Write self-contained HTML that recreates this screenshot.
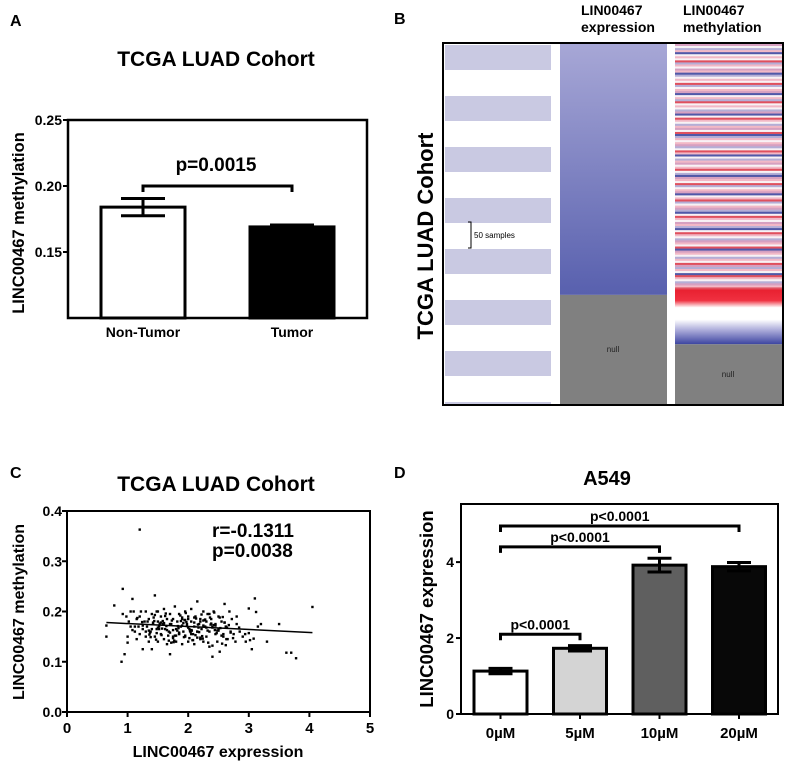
<!DOCTYPE html>
<html><head><meta charset="utf-8">
<style>
html,body{margin:0;padding:0;background:#fff;}
svg{display:block;font-family:"Liberation Sans",Arial,sans-serif;}
.b{font-weight:bold;}
</style></head>
<body>
<svg id="fig" width="787" height="763" viewBox="0 0 787 763" xmlns="http://www.w3.org/2000/svg">
<text x="10" y="26" class="b" font-size="16">A</text>
<text x="394" y="24" class="b" font-size="16">B</text>
<text x="10" y="478" class="b" font-size="16">C</text>
<text x="394" y="478" class="b" font-size="16">D</text>

<g id="pa">
<text x="216" y="66" text-anchor="middle" class="b" font-size="21">TCGA LUAD Cohort</text>
<text transform="translate(24,223) rotate(-90)" text-anchor="middle" class="b" font-size="16.5">LINC00467 methylation</text>
</g>

<g id="pb">
<text transform="translate(433,236) rotate(-90)" text-anchor="middle" class="b" font-size="22">TCGA LUAD Cohort</text>
<text x="581" y="15" class="b" font-size="14"><tspan x="581">LIN00467</tspan><tspan x="581" dy="17">expression</tspan></text>
<text x="683" y="15" class="b" font-size="14"><tspan x="683">LIN00467</tspan><tspan x="683" dy="17">methylation</tspan></text>
</g>

<g id="pc">
<text x="216" y="491" text-anchor="middle" class="b" font-size="21">TCGA LUAD Cohort</text>
<text transform="translate(24,612) rotate(-90)" text-anchor="middle" class="b" font-size="16">LINC00467 methylation</text>
<text x="218" y="757" text-anchor="middle" class="b" font-size="16">LINC00467 expression</text>
<text x="212" y="537" class="b" font-size="19">r=-0.1311</text>
<text x="212" y="557" class="b" font-size="19">p=0.0038</text>
</g>

<g id="pd">
<text x="607" y="485" text-anchor="middle" class="b" font-size="20">A549</text>
<text transform="translate(433,609) rotate(-90)" text-anchor="middle" class="b" font-size="18.5">LINC00467 expression</text>
</g>
</svg>
<script>
const NS='http://www.w3.org/2000/svg';
function mk(parent,tag,attrs){const e=document.createElementNS(NS,tag);for(const k in attrs)e.setAttribute(k,attrs[k]);parent.appendChild(e);return e;}

// ---------- Panel A data ----------
const aCategories=['Non-Tumor','Tumor'];
const aValues=[0.184,0.169];
const aErrors=[0.0065,0.0015];
const aFills=['#ffffff','#000000'];
const aTicks=[0.15,0.20,0.25];
const aPText='p=0.0015';
const aBracketY=0.20;

// ---------- Panel B data ----------
const bStripeCount=8;
const bExprFraction=0.695;
const bMethCodes='mwlpbwpwrlpwmpblwpwrlwpmbwplrwpwlmbwrpwlpmwrblpwpmlwrpbwlpmwprwlbmpwrlwpmbwprlwpmlbwrpwmplbwrpwlmpwrbmpwlpwrmlpwbrpwlmpr';
const bMethFraction=0.685;

// ---------- Panel C data ----------
const cX=[0.65,0.65,0.78,0.9,0.92,0.95,0.98,1.0,1.02,1.05,1.08,1.1,1.12,1.15,1.15,1.18,1.2,1.2,1.22,1.25,1.25,1.28,1.3,1.3,1.32,1.35,1.35,1.38,1.4,1.4,1.42,1.45,1.45,1.48,1.5,1.5,1.5,1.52,1.55,1.55,1.58,1.6,1.6,1.62,1.65,1.65,1.68,1.7,1.7,1.72,1.75,1.75,1.78,1.8,1.8,1.82,1.85,1.85,1.88,1.9,1.9,1.92,1.95,1.95,1.98,2.0,2.0,2.02,2.05,2.05,2.08,2.1,2.1,2.12,2.15,2.15,2.18,2.2,2.2,2.22,2.25,2.25,2.28,2.3,2.3,2.32,2.35,2.35,2.38,2.4,2.4,2.42,2.45,2.45,2.48,2.5,2.5,2.52,2.55,2.58,2.6,2.62,2.65,2.68,2.7,2.72,2.75,2.78,2.8,2.85,2.9,2.95,3.0,3.05,3.1,3.15,3.2,3.3,3.5,3.62,3.7,3.78,4.05,1.2,0.92,1.12,1.48,1.75,2.1,2.55,3.08,1.3,1.6,1.9,2.2,2.4,1.05,1.45,1.7,2.0,2.3,2.6,1.35,1.85,2.15,2.45,2.7,1.55,1.95,2.25,2.0,1.8,2.1,1.65,2.35,1.4,2.05,1.9,2.2,1.75,2.5,1.25,2.8,3.0,1.0,2.6,1.5,2.15,1.95,1.7,2.25,1.85,2.4,1.6,2.05,
1.33,1.37,1.43,1.47,1.53,1.57,1.63,1.67,1.73,1.77,1.83,1.87,1.93,1.97,2.03,2.07,2.13,2.17,2.23,2.27,2.33,2.37,2.43,2.47,2.53,2.57,2.63,2.67,1.36,1.44,1.56,1.64,1.76,1.84,1.96,2.04,2.16,2.24,2.36,2.44,2.56,2.64,1.38,1.52,1.62,1.78,1.88,1.98,2.08,2.18,2.28,2.38,2.48,2.58,1.16,1.24,1.08,2.74,2.84,2.94,3.02,3.12,1.92,2.02,2.12,1.82,1.72,2.22,2.32,1.58,1.68,2.42,2.52,1.48,1.42,2.62,2.06,1.94];
const cY=[0.15,0.172,0.212,0.10,0.245,0.115,0.19,0.15,0.18,0.17,0.225,0.2,0.16,0.185,0.145,0.17,0.19,0.155,0.2,0.125,0.165,0.18,0.15,0.2,0.17,0.14,0.185,0.16,0.195,0.125,0.175,0.15,0.232,0.165,0.18,0.14,0.2,0.17,0.155,0.19,0.175,0.145,0.205,0.165,0.185,0.135,0.16,0.195,0.115,0.175,0.15,0.185,0.21,0.165,0.14,0.18,0.155,0.195,0.17,0.135,0.185,0.16,0.2,0.15,0.175,0.19,0.14,0.165,0.18,0.205,0.155,0.17,0.135,0.19,0.16,0.22,0.175,0.145,0.185,0.165,0.2,0.14,0.17,0.18,0.15,0.195,0.16,0.13,0.185,0.17,0.11,0.2,0.155,0.175,0.14,0.19,0.165,0.12,0.18,0.15,0.215,0.17,0.145,0.2,0.16,0.185,0.155,0.14,0.175,0.16,0.15,0.14,0.206,0.125,0.226,0.17,0.175,0.14,0.175,0.118,0.118,0.107,0.209,0.363,0.195,0.17,0.2,0.163,0.188,0.152,0.146,0.16,0.176,0.188,0.148,0.132,0.2,0.193,0.158,0.185,0.168,0.178,0.162,0.158,0.148,0.172,0.158,0.178,0.183,0.172,0.168,0.152,0.178,0.163,0.195,0.165,0.155,0.172,0.18,0.147,0.162,0.172,0.19,0.157,0.138,0.178,0.168,0.16,0.152,0.175,0.182,0.156,0.168,0.177,0.163,0.18,
0.158,0.188,0.144,0.176,0.166,0.196,0.152,0.182,0.142,0.171,0.192,0.149,0.179,0.161,0.143,0.186,0.168,0.151,0.183,0.138,0.174,0.198,0.157,0.167,0.189,0.145,0.173,0.154,0.181,0.153,0.171,0.139,0.167,0.197,0.159,0.174,0.146,0.188,0.163,0.136,0.168,0.149,0.165,0.191,0.152,0.181,0.171,0.143,0.159,0.184,0.176,0.162,0.155,0.187,0.179,0.163,0.147,0.168,0.155,0.143,0.199,0.177,0.147,0.153,0.162,0.138,0.194,0.162,0.181,0.142,0.173,0.188,0.157,0.178,0.133,0.162,0.183,0.145];
const cFitX=[0.65,4.05];
const cFitY=[0.178,0.158];
const cXTicks=[0,1,2,3,4,5];
const cYTicks=[0.0,0.1,0.2,0.3,0.4];
const cYTickLabels=['0.0','0.1','0.2','0.3','0.4'];

// ---------- Panel D data ----------
const dCategories=['0µM','5µM','10µM','20µM'];
const dValues=[1.13,1.73,3.92,3.88];
const dErrors=[0.07,0.07,0.18,0.11];
const dFills=['#ffffff','#d4d4d4','#5f5f5f','#080808'];
const dTicks=[0,2,4];
const dBrackets=[[0,1,2.1,'p<0.0001'],[0,2,4.4,'p<0.0001'],[0,3,4.95,'p<0.0001']];

// ===== Panel A =====
(function(){
 const g=document.getElementById('pa');
 const L=68,R=367,T=120,B=318,y0=0.10,y1=0.25;
 const ys=v=>B-(v-y0)/(y1-y0)*(B-T);
 const xc=i=>[143,292][i];
 const bw=84;
 aCategories.forEach((c,i)=>{
  const top=ys(aValues[i]);
  const r=mk(g,'rect',{x:xc(i)-bw/2,y:top,width:bw,height:B-top,fill:aFills[i],stroke:'#000','stroke-width':3});
  
  
  const e=mk(g,'path',{d:`M${xc(i)} ${ys(aValues[i]+aErrors[i])}V${ys(aValues[i]-aErrors[i])}M${xc(i)-22} ${ys(aValues[i]+aErrors[i])}h44M${xc(i)-22} ${ys(aValues[i]-aErrors[i])}h44`,stroke:'#000','stroke-width':3,fill:'none'});
  
  
  const t=mk(g,'text',{x:xc(i),y:337,'text-anchor':'middle','font-size':14,'font-weight':'bold'});
  t.textContent=c;
  
  
 });
 const ax=mk(g,'rect',{x:L,y:T,width:R-L,height:B-T,fill:'none',stroke:'#000','stroke-width':2.5});
 
 
 aTicks.forEach(v=>{
  mk(g,'line',{x1:L-5,x2:L,y1:ys(v),y2:ys(v),stroke:'#000','stroke-width':2});
  const t=mk(g,'text',{x:L-6,y:ys(v)+5,'text-anchor':'end','font-size':14,'font-weight':'bold'});
  t.textContent=v.toFixed(2);
  
  
 });
 const by=ys(aBracketY);
 const br=mk(g,'path',{d:`M${xc(0)} ${by+6}V${by}H${xc(1)}V${by+6}`,stroke:'#000','stroke-width':3,fill:'none'});
 
 
 const pt=mk(g,'text',{x:216,y:by-15,'text-anchor':'middle','font-size':19,'font-weight':'bold'});
 pt.textContent=aPText;
 
 
})();

// ===== Panel B =====
(function(){
 const g=document.getElementById('pb');
 const T=44,B=405;
 const H=B-T;
 const period=51;
 for(let i=0;i<bStripeCount;i++){
  const y=45+i*period;
  const h=Math.min(25,B-y);
  const r=mk(g,'rect',{x:445,y:y,width:106,height:h,fill:'#c9c9e2'});
  
  
 }
 mk(g,'path',{d:'M468 222h3v26h-3',stroke:'#000','stroke-width':1,fill:'none'});
 const st=mk(g,'text',{x:474,y:238,'font-size':8});
 st.textContent='50 samples';
 
 
 const defs=mk(g,'defs',{});
 const lg=mk(defs,'linearGradient',{id:'eg',x1:0,y1:0,x2:0,y2:1});
 mk(lg,'stop',{offset:0,'stop-color':'#a7a7d6'});
 mk(lg,'stop',{offset:1,'stop-color':'#5860ae'});
 const ey=T+bExprFraction*H;
 const er=mk(g,'rect',{x:560,y:T,width:107,height:ey-T,fill:'url(#eg)'});
 
 
 const en=mk(g,'rect',{x:560,y:ey,width:107,height:B-ey,fill:'#808080'});
 
 
 const nt=mk(g,'text',{x:613,y:352,'text-anchor':'middle','font-size':8,fill:'#222'});nt.textContent='null';
 
 
 const cmap={r:'#e0505e',p:'#f2b8c6',w:'#f8f2f5',b:'#5058a8',l:'#b4aed6',m:'#d6a0c0'};
 const my=T+0.68*H;
 const lh=(my-T)/bMethCodes.length;
 [...bMethCodes].forEach((c,i)=>{
  const r=mk(g,'rect',{x:675,y:T+i*lh,width:107,height:lh+0.3,fill:cmap[c]});
  
  
 });
 const lg2=mk(defs,'linearGradient',{id:'mg',x1:0,y1:0,x2:0,y2:1});
 [[0,'#e82030'],[0.2,'#f03040'],[0.33,'#ffffff'],[0.55,'#ffffff'],[0.75,'#a8a8d8'],[1,'#3c44a0']].forEach(s=>mk(lg2,'stop',{offset:s[0],'stop-color':s[1]}));
 const mnull=T+bMethFraction*H+53;
 const mg=mk(g,'rect',{x:675,y:my,width:107,height:mnull-my,fill:'url(#mg)'});
 
 
 const mn=mk(g,'rect',{x:675,y:mnull,width:107,height:B-mnull,fill:'#808080'});
 
 
 const nt2=mk(g,'text',{x:728,y:377,'text-anchor':'middle','font-size':8,fill:'#222'});nt2.textContent='null';
 
 
 const fr=mk(g,'rect',{x:443,y:43,width:340,height:362,fill:'none',stroke:'#000','stroke-width':2});
 
 
})();

// ===== Panel C =====
(function(){
 const g=document.getElementById('pc');
 const L=67,R=370,T=511,B=712;
 const xs=v=>L+v/5*(R-L), ys=v=>B-v/0.4*(B-T);
 cX.forEach((x,i)=>{
  const c=mk(g,'rect',{x:xs(x)-1.2,y:ys(cY[i])-1.2,width:2.4,height:2.4,fill:'#000'});
  
  
 });
 const fl=mk(g,'line',{x1:xs(cFitX[0]),y1:ys(cFitY[0]),x2:xs(cFitX[1]),y2:ys(cFitY[1]),stroke:'#000','stroke-width':1.5});
 
 
 const f=mk(g,'rect',{x:L,y:T,width:R-L,height:B-T,fill:'none',stroke:'#000','stroke-width':2});
 
 
 cXTicks.forEach(v=>{
  mk(g,'line',{x1:xs(v),x2:xs(v),y1:B,y2:B+5,stroke:'#000','stroke-width':2});
  const t=mk(g,'text',{x:xs(v),y:B+21,'text-anchor':'middle','font-size':15,'font-weight':'bold'});t.textContent=v;
  
  
 });
 cYTicks.forEach((v,i)=>{
  mk(g,'line',{x1:L-5,x2:L,y1:ys(v),y2:ys(v),stroke:'#000','stroke-width':2});
  const t=mk(g,'text',{x:L-5,y:ys(v)+5,'text-anchor':'end','font-size':14,'font-weight':'bold'});t.textContent=cYTickLabels[i];
  
  
 });
})();

// ===== Panel D =====
(function(){
 const g=document.getElementById('pd');
 const L=461,R=778,T=504,B=714,ymax=5.53;
 const ys=v=>B-v/ymax*(B-T);
 const xc=i=>500.5+i*79.5;
 const bw=53;
 dCategories.forEach((c,i)=>{
  const top=ys(dValues[i]);
  const r=mk(g,'rect',{x:xc(i)-bw/2,y:top,width:bw,height:B-top,fill:dFills[i],stroke:'#000','stroke-width':3});
  
  
  const hi=ys(dValues[i]+dErrors[i]),lo=ys(dValues[i]-dErrors[i]);
  const e=mk(g,'path',{d:`M${xc(i)} ${hi}V${lo}M${xc(i)-12} ${hi}h24M${xc(i)-12} ${lo}h24`,stroke:'#000','stroke-width':3,fill:'none'});
  
  
  mk(g,'line',{x1:xc(i),x2:xc(i),y1:B,y2:B+5,stroke:'#000','stroke-width':2});
  const t=mk(g,'text',{x:xc(i),y:B+24,'text-anchor':'middle','font-size':15,'font-weight':'bold'});t.textContent=c;
  
  
 });
 const f=mk(g,'rect',{x:L,y:T,width:R-L,height:B-T,fill:'none',stroke:'#000','stroke-width':2});
 
 
 dTicks.forEach(v=>{
  mk(g,'line',{x1:L-5,x2:L,y1:ys(v),y2:ys(v),stroke:'#000','stroke-width':2});
  const t=mk(g,'text',{x:L-7,y:ys(v)+5,'text-anchor':'end','font-size':14,'font-weight':'bold'});t.textContent=v;
  
  
 });
 dBrackets.forEach(b=>{
  const y=ys(b[2]);
  const p=mk(g,'path',{d:`M${xc(b[0])} ${y+6}V${y}H${xc(b[1])}V${y+6}`,stroke:'#000','stroke-width':3,fill:'none'});
  
  
  const t=mk(g,'text',{x:(xc(b[0])+xc(b[1]))/2,y:y-5,'text-anchor':'middle','font-size':14,'font-weight':'bold'});t.textContent=b[3];
  
  
 });
})();
</script>
</body></html>
